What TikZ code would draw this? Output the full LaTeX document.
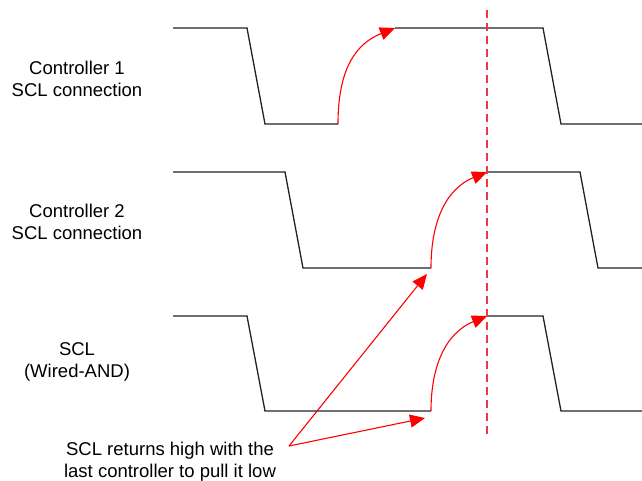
\documentclass[tikz,border=0pt]{standalone}
\usepackage{fontspec}
\setmainfont{Liberation Sans}
\usetikzlibrary{arrows.meta}

\definecolor{wave}{HTML}{222222}
\definecolor{mark}{HTML}{FF0000}
\definecolor{cutline}{HTML}{F0383C}

\tikzset{
  signal/.style={draw=wave, line width=1.3pt, line join=miter},
  rise/.style={draw=mark, line width=1.1pt, -{Triangle[length=15pt,width=13pt]}},
  pointer/.style={draw=mark, line width=1.1pt, -{Triangle[length=15pt,width=13pt]}},
  cut/.style={draw=cutline, line width=1.3pt, dash pattern=on 8pt off 5pt},
  % anchor base sits on the baseline of the last line
  lbl/.style={font=\fontsize{18.5}{22}\selectfont, align=center, inner sep=0pt, anchor=base},
}

\begin{document}
\begin{tikzpicture}[x=1pt, y=-1pt]
  \useasboundingbox (0,0) rectangle (642,480);

  % signal names
  \node[lbl] (c1) at (77,96) {Controller 1\\SCL connection};
  \node[lbl] (c2) at (77,239) {Controller 2\\SCL connection};
  \node[lbl] (scl) at (77,377) {SCL\\(Wired-AND)};

  % release points of each line (start of the rising edge) and where it reaches high
  \coordinate (r1) at (338,124);  \coordinate (h1) at (395,28);
  \coordinate (r2) at (431,268);  \coordinate (h2) at (487,172);
  \coordinate (r3) at (431,411);  \coordinate (h3) at (487,316);

  % controller 1
  \draw[signal] (173,28) -- (247,28) -- (265,124) -- (r1);
  \draw[signal] (h1) -- (543,28) -- (561,124) -- (642,124);
  % controller 2
  \draw[signal] (173,172) -- (285,172) -- (303,268) -- (r2);
  \draw[signal] (h2) -- (580,172) -- (598,268) -- (642,268);
  % wired-AND result
  \draw[signal] (173,316) -- (247,316) -- (265,411) -- (r3);
  \draw[signal] (h3) -- (543,316) -- (561,411) -- (642,411);

  % rising edges
  \draw[rise] (r1) .. controls (338,70) and (355,44) .. (h1);
  \draw[rise] (r2) .. controls (431,218) and (448,188) .. (h2);
  \draw[rise] (r3) .. controls (431,362) and (448,332) .. (h3);

  % release instant
  \coordinate (ctop) at (487,10);
  \coordinate (cbot) at (487,437);
  \draw[cut] (ctop) -- (cbot);

  % note
  \node[lbl] (note) at (170,477) {SCL returns high with the\\last controller to pull it low};
  \coordinate (fork) at (289,446);
  \coordinate (t2) at (427,274);
  \coordinate (t3) at (425,418);
  \draw[pointer] (fork) -- (t2);
  \draw[pointer] (fork) -- (t3);
\end{tikzpicture}
\end{document}
